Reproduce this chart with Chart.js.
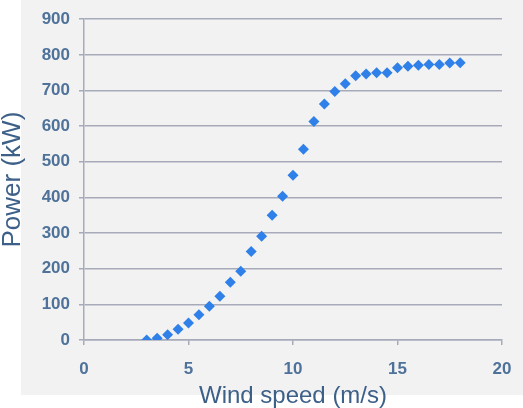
<!DOCTYPE html>
<html>
<head>
<meta charset="utf-8">
<script src="https://cdn.jsdelivr.net/npm/chart.js@4/dist/chart.umd.min.js"></script>
<style>
  html, body { margin: 0; padding: 0; background: #ffffff; }
  #wrap { width: 523px; height: 408px; position: relative; }
</style>
</head>
<body>
<div id="wrap"><canvas id="powerChart" width="523" height="408"></canvas></div>
<script>
// wind speed (m/s) and power (kW)
const windSpeed = [3, 3.5, 4, 4.5, 5, 5.5, 6, 6.5, 7, 7.5, 8, 8.5, 9, 9.5, 10, 10.5,
  11, 11.5, 12, 12.5, 13, 13.5, 14, 14.5, 15, 15.5, 16, 16.5, 17, 17.5, 18];
const power = [0, 5, 15, 30, 48, 71, 95, 123, 162, 193, 248, 291, 350, 403, 462, 535,
  613, 662, 697, 719, 741, 746, 750, 750, 764, 768, 771, 773, 773, 777, 778];
const xTicks = [0, 5, 10, 15, 20];
const yTicks = [0, 100, 200, 300, 400, 500, 600, 700, 800, 900];

const tickColor = "#4f729a";
const titleColor = "#3d6088";
const gridColor = "#a7aab9";

// grey panel behind the plot, white strip at left and bottom
const panelBg = {
  id: "panelBg",
  beforeDraw(chart) {
    const ctx = chart.ctx;
    ctx.save();
    ctx.fillStyle = "#ffffff";
    ctx.fillRect(0, 0, chart.width, chart.height);
    ctx.fillStyle = "#f2f2f2";
    ctx.fillRect(21, 0, chart.width - 21, 395);
    ctx.restore();
  }
};

const points = windSpeed.map((w, i) => ({ x: w, y: power[i] }));

new Chart(document.getElementById("powerChart"), {
  type: "scatter",
  data: {
    datasets: [{
      label: "Power",
      data: points,
      pointStyle: "rectRot",
      pointRadius: 5.5,
      pointHoverRadius: 5.5,
      pointBackgroundColor: "#2f80e8",
      pointBorderWidth: 0
    }]
  },
  options: {
    responsive: false,
    animation: false,
    layout: { padding: { left: 0, right: 21, top: 13, bottom: 0 } },
    plugins: {
      legend: { display: false },
      tooltip: { enabled: false }
    },
    scales: {
      x: {
        type: "linear",
        min: 0,
        max: 20,
        afterBuildTicks: axis => { axis.ticks = xTicks.map(v => ({ value: v })); },
        afterFit: axis => {
          axis.height = 68;
          axis.paddingLeft = 0;
          axis.paddingRight = 0;
        },
        grid: { drawOnChartArea: false, drawTicks: true, tickLength: 5, color: gridColor, lineWidth: 1.5 },
        border: { display: true, color: gridColor, width: 1.5 },
        ticks: {
          color: tickColor,
          padding: 14,
          font: { family: "'Liberation Sans', Arial, sans-serif", size: 17, weight: "bold" }
        },
        title: {
          display: true,
          text: "Wind speed (m/s)",
          color: titleColor,
          padding: 0,
          font: { family: "'Liberation Sans', Arial, sans-serif", size: 24, lineHeight: 1 }
        }
      },
      y: {
        type: "linear",
        min: 0,
        max: 900,
        afterBuildTicks: axis => { axis.ticks = yTicks.map(v => ({ value: v })); },
        afterFit: axis => { axis.width = 84; },
        grid: { drawOnChartArea: true, drawTicks: true, tickLength: 5, color: gridColor, lineWidth: 1.5 },
        border: { display: true, color: gridColor, width: 1.5 },
        ticks: {
          color: tickColor,
          padding: 9,
          font: { family: "'Liberation Sans', Arial, sans-serif", size: 17, weight: "bold" }
        },
        title: {
          display: true,
          text: "Power (kW)",
          color: titleColor,
          padding: 0,
          font: { family: "'Liberation Sans', Arial, sans-serif", size: 26, lineHeight: 1 }
        }
      }
    }
  },
  plugins: [panelBg]
});
</script>
</body>
</html>
